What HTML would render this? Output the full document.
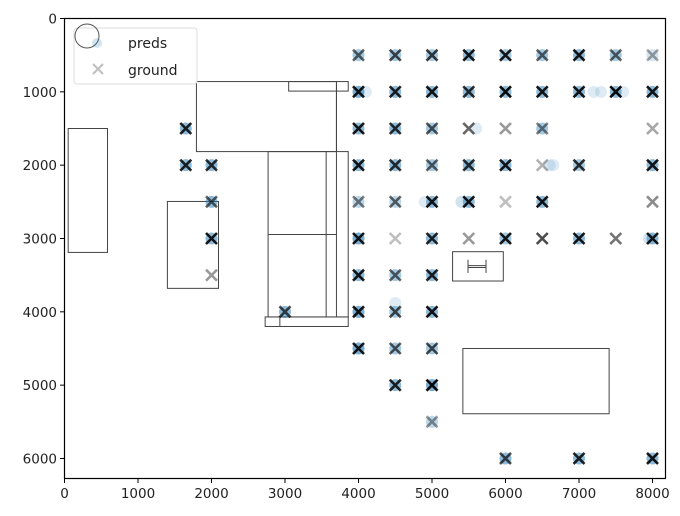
<!DOCTYPE html>
<html><head><meta charset="utf-8"><style>body{margin:0;background:#fff}svg{display:block;font-family:"DejaVu Sans","Liberation Sans",sans-serif}</style></head>
<body>
<svg id="chart" width="680" height="516" viewBox="0 0 680 516" xmlns="http://www.w3.org/2000/svg">
<rect width="680" height="516" fill="#fff"/>
<g id="walls" fill="none" stroke="#444" stroke-width="1"></g>
<g id="preds"></g>
<g id="ground"></g>
<rect x="64.5" y="18.5" width="601" height="460" fill="none" stroke="#000" stroke-width="1.2"/>
<g id="xticks"></g>
<g id="yticks"></g>
<g>
<rect x="74" y="28" width="123" height="56" rx="3" fill="#fff" fill-opacity="0.8" stroke="#ddd"/>
<circle cx="87" cy="36" r="12" fill="none" stroke="#555" stroke-width="1"/>
<circle cx="97" cy="43" r="5" fill="#1f77b4" fill-opacity="0.2"/>
<text x="128" y="48" font-size="14" fill="#222">preds</text>
<path d="M93 64 L103 74 M103 64 L93 74" stroke="#000" stroke-opacity="0.25" stroke-width="2"/>
<text x="128" y="75" font-size="14" fill="#222">ground</text>
</g>
</svg>
<script>
const xTicks=[0,1000,2000,3000,4000,5000,6000,7000,8000];
const yTicks=[0,1000,2000,3000,4000,5000,6000];
const groundX=[4000,4500,5000,5500,6000,6500,7000,7500,8000, 4000,4500,5000,5500,6000,6500,7000,7500,8000, 1650,4000,4500,5000,5500,6000,6500,8000, 1650,2000,4000,4500,5000,5500,6000,6500,7000,8000, 2000,4000,4500,5000,5500,6000,6500,8000, 2000,4000,4500,5000,5500,6000,6500,7000,7500,8000, 2000,4000,4500,5000, 3000,4000,4500,5000, 4000,4500,5000, 4500,5000, 5000, 6000,7000,8000];
const groundY=[500,500,500,500,500,500,500,500,500, 1000,1000,1000,1000,1000,1000,1000,1000,1000, 1500,1500,1500,1500,1500,1500,1500,1500, 2000,2000,2000,2000,2000,2000,2000,2000,2000,2000, 2500,2500,2500,2500,2500,2500,2500,2500, 3000,3000,3000,3000,3000,3000,3000,3000,3000,3000, 3500,3500,3500,3500, 4000,4000,4000,4000, 4500,4500,4500, 5000,5000, 5500, 6000,6000,6000];
const groundA=[0.6,0.7,0.75,0.9,0.9,0.6,0.9,0.6,0.35, 0.9,0.85,0.9,0.8,0.95,0.9,0.9,0.95,0.9, 0.85,0.9,0.8,0.65,0.6,0.4,0.5,0.35, 0.85,0.8,0.9,0.8,0.6,0.8,0.9,0.3,0.8,0.9, 0.6,0.5,0.6,0.9,0.9,0.25,0.9,0.45, 0.9,0.9,0.25,0.85,0.4,0.9,0.7,0.9,0.55,0.9, 0.4,0.9,0.6,0.85, 0.7,0.9,0.7,0.9, 0.9,0.65,0.7, 0.85,0.95, 0.4, 0.7,0.85,0.9];
const predX=[4000,4500,5000,5500,6000,6500,7000,7500,8000, 4000,4100,4500,5000,5500,6000,6500,7000,7200,7300,7500,7600,8000, 1650,4000,4500,5000,5600,6500, 1650,2000,4000,4500,5000,5500,6000,6600,6650,7000,8000, 2000,4000,4500,4900,5000,5400,5500,6500, 2000,4000,5000,6000,7000,7950,8000, 4000,4500,5000, 3000,4000,4500,4500,5000, 4000,4500,5000, 4500,5000, 5000, 6000,7000,8000];
const predY=[500,500,500,500,500,500,500,500,500, 1000,1000,1000,1000,1000,1000,1000,1000,1000,1000,1000,1000,1000, 1500,1500,1500,1500,1500,1500, 2000,2000,2000,2000,2000,2000,2000,2000,2000,2000,2000, 2500,2500,2500,2500,2500,2500,2500,2500, 3000,3000,3000,3000,3000,3000,3000, 3500,3500,3500, 4000,4000,3880,4000,4000, 4500,4500,4500, 5000,5000, 5500, 6000,6000,6000];
const predA=[0.4,0.4,0.4,0.5,0.4,0.4,0.5,0.4,0.2, 0.6,0.15,0.5,0.5,0.5,0.5,0.5,0.5,0.15,0.15,0.5,0.15,0.5, 0.5,0.5,0.5,0.4,0.15,0.4, 0.5,0.5,0.5,0.5,0.4,0.5,0.5,0.15,0.15,0.4,0.5, 0.5,0.3,0.3,0.15,0.5,0.2,0.5,0.5, 0.5,0.6,0.5,0.4,0.5,0.2,0.5, 0.5,0.4,0.5, 0.5,0.6,0.15,0.4,0.5, 0.6,0.4,0.4, 0.5,0.6, 0.3, 0.5,0.5,0.5];
const rects=[[50,1500,585,3190],[1400,2495,2095,3680],[1795,860,3700,1815],[3050,860,3860,990],[2770,1815,3860,4070],[2730,4070,3860,4200],[5280,3180,5970,3580],[5420,4500,7410,5390]];
const X=v=>64.5+v*0.0735, Y=v=>18.5+v*0.07333;
const NS='http://www.w3.org/2000/svg';
function mk(t,a,p){const e=document.createElementNS(NS,t);for(const k in a)e.setAttribute(k,a[k]);p.appendChild(e);return e;}
const W=document.getElementById('walls');
rects.forEach(r=>{const e=mk('rect',{x:X(r[0]),y:Y(r[1]),width:X(r[2])-X(r[0]),height:Y(r[3])-Y(r[1])},W);

});
const lines=[[3560,1815,3560,4070],[3700,860,3700,4070],[2770,2945,3700,2945],[2930,4070,2930,4200],[5490,3290,5490,3470],[5735,3290,5735,3470],[5490,3370,5735,3370],[5490,3395,5735,3395]];
lines.forEach(l=>{const e=mk('line',{x1:X(l[0]),y1:Y(l[1]),x2:X(l[2]),y2:Y(l[3])},W);

});
const P=document.getElementById('preds');
predX.forEach((x,i)=>{const e=mk('circle',{cx:X(x),cy:Y(predY[i]),r:6,fill:'#1f77b4','fill-opacity':predA[i]},P);

});
const G=document.getElementById('ground');
groundX.forEach((x,i)=>{const cx=X(x),cy=Y(groundY[i]),s=5.5;
const e=mk('path',{d:`M${cx-s} ${cy-s}L${cx+s} ${cy+s}M${cx+s} ${cy-s}L${cx-s} ${cy+s}`,stroke:'#000','stroke-opacity':groundA[i],'stroke-width':2.6},G);

});
const XT=document.getElementById('xticks');
xTicks.forEach(t=>{mk('line',{x1:X(t),x2:X(t),y1:478.5,y2:483,stroke:'#000'},XT);
const e=mk('text',{x:X(t),y:498,'font-size':13.5,'text-anchor':'middle',fill:'#222'},XT);e.textContent=t;

});
const YT=document.getElementById('yticks');
yTicks.forEach(t=>{mk('line',{x1:60,x2:64.5,y1:Y(t),y2:Y(t),stroke:'#000'},YT);
const e=mk('text',{x:57,y:Y(t)+5,'font-size':13.5,'text-anchor':'end',fill:'#222'},YT);e.textContent=t;

});
</script>
</body></html>
